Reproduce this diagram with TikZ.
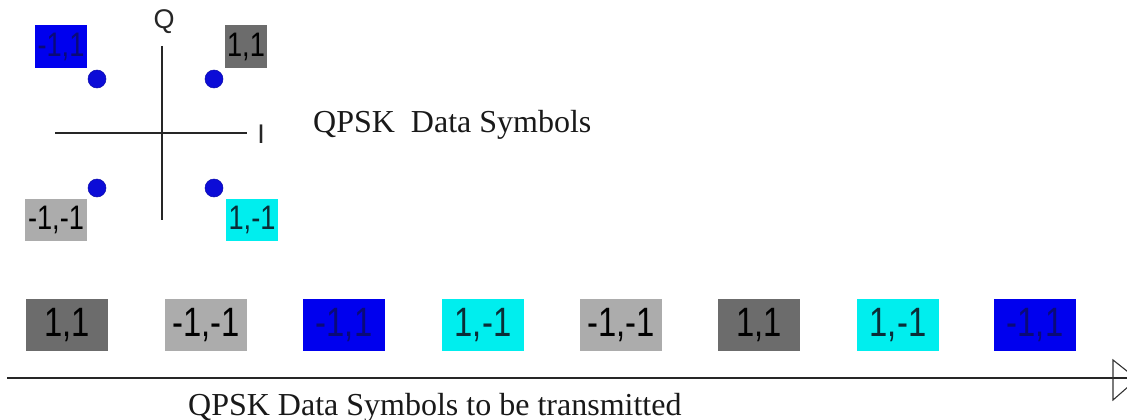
\documentclass[tikz,border=0pt]{standalone}
\usepackage{fontspec}
\setmainfont{Liberation Serif}
\newfontfamily\arialN[FakeStretch=0.8]{Liberation Sans}
\newfontfamily\arialF{Liberation Sans}
\definecolor{dgray}{RGB}{108,108,108}
\definecolor{lgray}{RGB}{172,172,172}
\definecolor{sblue}{RGB}{0,0,238}
\definecolor{scyan}{RGB}{0,238,238}
\definecolor{dotblue}{RGB}{12,12,215}
\definecolor{bluetext}{RGB}{10,10,120}
\definecolor{cyantext}{RGB}{10,45,55}
\begin{document}
\begin{tikzpicture}[x=1pt,y=-1pt,
  symtop/.style={rectangle, inner sep=0pt, minimum height=43pt, font=\arialN\fontsize{34}{34}\selectfont},
  symbot/.style={rectangle, inner sep=0pt, minimum width=82pt, minimum height=52pt, font=\arialN\fontsize{41}{41}\selectfont},
  cdgray/.style={fill=dgray, text=black},
  clgray/.style={fill=lgray, text=black},
  cblue/.style={fill=sblue, text=bluetext},
  ccyan/.style={fill=scyan, text=cyantext},
  dotpt/.style={circle, fill=dotblue, draw=dotblue!80!black, line width=0.5pt, minimum size=18pt, inner sep=0pt},
  axisline/.style={line width=1.3pt, draw=black!85},
  axlabel/.style={font=\arialF\fontsize{27}{27}\selectfont, inner sep=0pt, text=black!85},
  caption/.style={font=\fontsize{32}{32}\selectfont, inner sep=0pt, anchor=base west, text=black!90}
]
\useasboundingbox (0,0) rectangle (1127,420);
\clip (0,0) rectangle (1127,420);

% constellation axes
\coordinate (qtop) at (162,46);
\coordinate (qbot) at (162,220);
\coordinate (ileft) at (55,133);
\coordinate (iright) at (247,133);
\draw[axisline] (qtop) -- (qbot);
\draw[axisline] (ileft) -- (iright);
\node[axlabel] (qlab) at (164,22) {Q};
\node[axlabel] (ilab) at (261,134) {I};

% constellation points
\node[dotpt] (d1) at (97,79) {};
\node[dotpt] (d2) at (214,79) {};
\node[dotpt] (d3) at (97,188) {};
\node[dotpt] (d4) at (214,188) {};

% constellation labels
\node[symtop, cblue, minimum width=52pt] (l1) at (61,46.5) {-1,1};
\node[symtop, cdgray, minimum width=42pt] (l2) at (246,46.5) {1,1};
\node[symtop, clgray, minimum width=62pt, minimum height=42pt] (l3) at (56,220) {-1,-1};
\node[symtop, ccyan, minimum width=52pt, minimum height=42pt] (l4) at (252,220) {1,-1};

\node[caption] (t1) at (313,132) {QPSK\ \ Data Symbols};

% transmitted sequence
\node[symbot, cdgray] (s1) at (67,325) {1,1};
\node[symbot, clgray] (s2) at (206,325) {-1,-1};
\node[symbot, cblue]  (s3) at (344,325) {-1,1};
\node[symbot, ccyan]  (s4) at (483,325) {1,-1};
\node[symbot, clgray] (s5) at (621,325) {-1,-1};
\node[symbot, cdgray] (s6) at (759,325) {1,1};
\node[symbot, ccyan]  (s7) at (898,325) {1,-1};
\node[symbot, cblue]  (s8) at (1035,325) {-1,1};

% time axis
\coordinate (t0) at (7,378);
\coordinate (tend) at (1127,378);
\coordinate (ha) at (1113,360);
\coordinate (hb) at (1137,379);
\coordinate (hc) at (1113,400);
\draw[axisline] (t0) -- (tend);
\draw[line width=1.1pt, draw=black!80, line join=miter] (ha) -- (hb) -- (hc) -- cycle;

\node[caption] (t2) at (188,415) {QPSK Data Symbols to be transmitted};
\end{tikzpicture}
\end{document}
